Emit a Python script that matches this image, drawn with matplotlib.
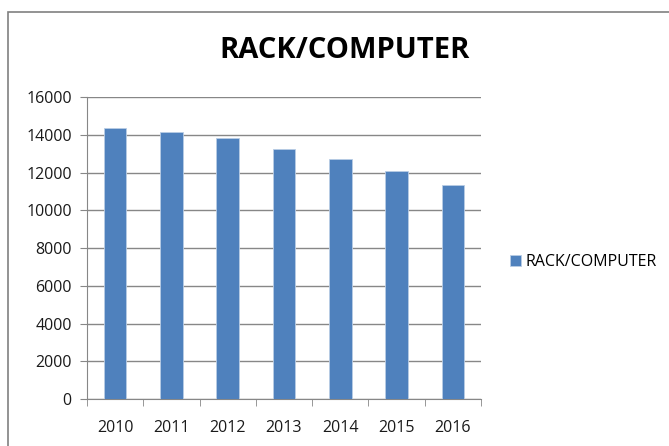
import matplotlib.pyplot as plt
from matplotlib.patches import Rectangle

years = ['2010', '2011', '2012', '2013', '2014', '2015', '2016']
racks = [14370, 14170, 13830, 13250, 12690, 12070, 11340]

bar_color = '#4F81BD'
grid_color = '#878787'

plt.rcParams['font.family'] = ['Open Sans', 'DejaVu Sans']

W, H = 669, 446
fig = plt.figure(figsize=(W / 100, H / 100), dpi=100)

# chart frame, open at the bottom and right
fig.patches.append(Rectangle((8 / W, -0.1), 1, 1.1 - 12 / H, transform=fig.transFigure,
                             fill=False, edgecolor='#808080', linewidth=1.2))

ax = fig.add_axes([87 / W, 1 - 399 / H, (481 - 87) / W, (399 - 97) / H])
x = list(range(len(years)))
ax.bar(x, racks, width=0.4, color=bar_color, edgecolor='#B9CDE5', linewidth=0.6,
       zorder=3, label='RACK/COMPUTER')

ax.set_xlim(-0.5, len(years) - 0.5)
ax.set_ylim(0, 16000)
ax.set_yticks(range(0, 16001, 2000))
ax.set_xticks(x)
ax.set_xticklabels(years)
ax.set_xticks([i - 0.5 for i in range(len(years) + 1)], minor=True)
ax.tick_params(axis='x', which='major', length=0, pad=15, labelsize=11.5, labelcolor='#1a1a1a')
ax.tick_params(axis='x', which='minor', length=5, color=grid_color)
ax.tick_params(axis='y', length=5, color=grid_color, pad=6, labelsize=11.5, labelcolor='#1a1a1a')

ax.yaxis.grid(True, color=grid_color, linewidth=1)
ax.set_axisbelow(True)
for side in ['top', 'right']:
    ax.spines[side].set_visible(False)
ax.spines['left'].set_color(grid_color)
ax.spines['bottom'].set_color(grid_color)

fig.text(345 / W, 1 - 51 / H, 'RACK/COMPUTER', ha='center', va='center',
         fontsize=21, fontweight='bold', color='black')

fig.legend(loc='center left', bbox_to_anchor=(496 / W, 1 - 262 / H), frameon=False,
           fontsize=11.5, handlelength=0.65, handleheight=0.65, handletextpad=0.3)

fig.savefig('out.png', dpi=100)
